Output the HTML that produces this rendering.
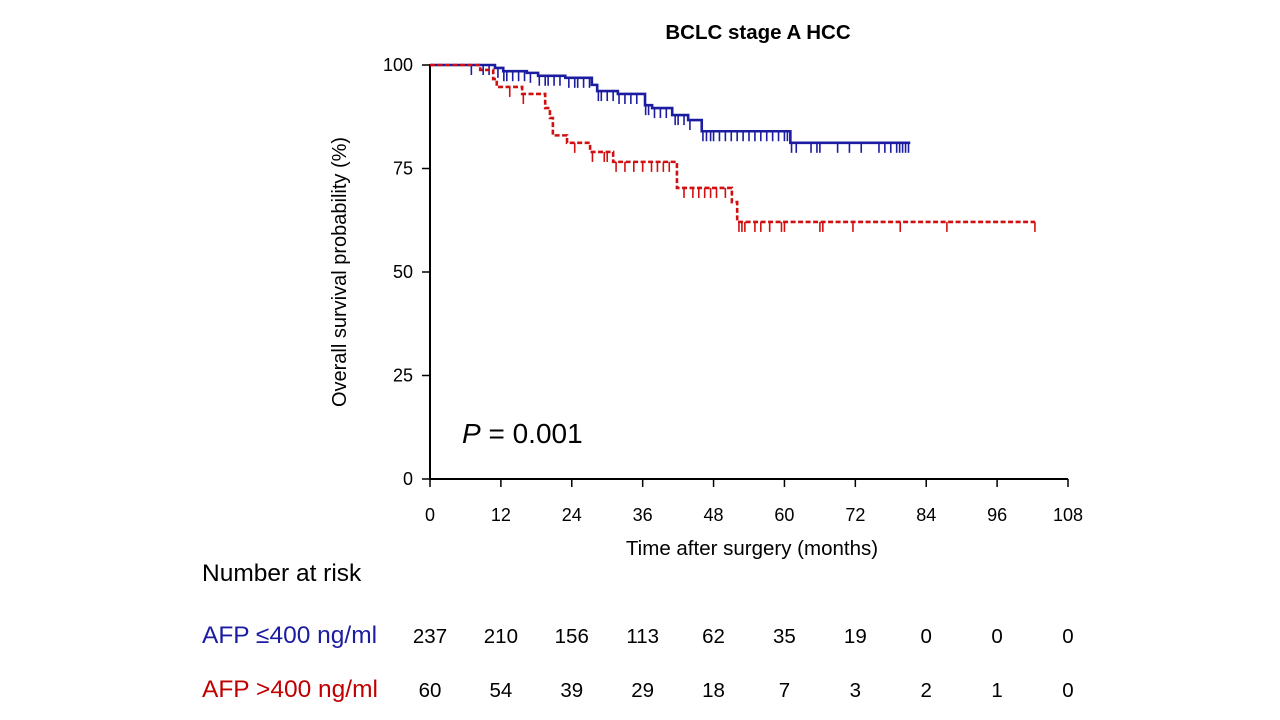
<!DOCTYPE html>
<html><head><meta charset="utf-8"><style>
body{margin:0;background:#fff;font-family:"Liberation Sans",Arial,sans-serif}
svg{display:block}
</style></head><body>
<svg id="c" width="1280" height="720" xmlns="http://www.w3.org/2000/svg" font-family="Liberation Sans, Arial, sans-serif">
<text x="758" y="39" text-anchor="middle" font-size="20.5" font-weight="bold">BCLC stage A HCC</text>
<text transform="translate(346,272) rotate(-90)" text-anchor="middle" font-size="20">Overall survival probability (%)</text>
<text x="752" y="555" text-anchor="middle" font-size="20.5">Time after surgery (months)</text>
<text x="462" y="443" font-size="28"><tspan font-style="italic">P</tspan> = 0.001</text>
<text x="202" y="581" font-size="24.5">Number at risk</text>
<text x="202" y="643" font-size="24.5" fill="#1c1ca0">AFP ≤400 ng/ml</text>
<text x="202" y="697" font-size="24.5" fill="#c00000">AFP &gt;400 ng/ml</text>
<g id="axes"></g><g id="curves"></g><g id="risk"></g>
</svg>
<script>
const xTicks=[0,12,24,36,48,60,72,84,96,108];
const yTicks=[0,25,50,75,100];
const blueSteps=[[0,100],[11,99.3],[12.4,98.5],[16.4,98.1],[18.3,97.4],[22.9,96.9],[27.4,95.2],[28.3,93.7],[31.8,93],[36.4,90.3],[37.6,89.6],[41,87.9],[43.7,86.7],[46,84],[61,81.2]];
const blueEnd=81.3;
const redSteps=[[0,100],[8.5,98.8],[10.7,96.6],[11.3,94.7],[15.6,93],[19.5,89.6],[20.3,87.2],[20.8,83],[23.2,81.2],[27.1,79],[31,76.6],[41.8,70.3],[51.1,66.9],[52,62.1]];
const redEnd=102.4;
const blueCensor=[7,9,10,11.5,12.5,13,14,15,16,17,18.5,19.5,20,21,22,23.5,24.5,25,26,27,28.5,29,30,31,32,33,34,35,36.5,37,38,39,40,41.5,42,43,44,46.2,46.8,47.5,48,49,50,51,52,53,54,55,56,57,58,59,60,60.5,61.2,62,64.5,65.5,66,69,71,73,76,77,78,79,79.5,80,80.5,81];
const redCensor=[13.5,15.8,24.5,27.5,29.5,30,31.5,33,34.5,36,37.5,38.5,39.5,40.5,43,44.5,45.5,46.5,47.5,48.5,50,52.3,52.8,53.3,55,56,57.5,59.5,60,66,66.5,71.6,79.6,87.5,102.4];
const riskLow=[237,210,156,113,62,35,19,0,0,0];
const riskHigh=[60,54,39,29,18,7,3,2,1,0];
const X0=430,X1=1068,Y0=479,Y1=65;
const sx=m=>X0+(m/108)*(X1-X0), sy=p=>Y0-(p/100)*(Y0-Y1);
const NS='http://www.w3.org/2000/svg';
function mk(t,a,p){const e=document.createElementNS(NS,t);for(const k in a)e.setAttribute(k,a[k]);p.appendChild(e);return e;}
const ax=document.getElementById('axes');
let e=mk('line',{x1:X0,y1:Y1-1,x2:X0,y2:Y0,stroke:'#000','stroke-width':2},ax);


e=mk('line',{x1:X0,y1:Y0,x2:X1,y2:Y0,stroke:'#000','stroke-width':2},ax);


xTicks.forEach(v=>{mk('line',{x1:sx(v),x2:sx(v),y1:Y0,y2:Y0+8,stroke:'#000','stroke-width':1.5},ax);
const t=mk('text',{x:sx(v),y:Y0+42,'text-anchor':'middle','font-size':18},ax);t.textContent=v;

});
yTicks.forEach(v=>{mk('line',{x1:X0-8,x2:X0,y1:sy(v),y2:sy(v),stroke:'#000','stroke-width':1.5},ax);
const t=mk('text',{x:X0-17,y:sy(v)+6,'text-anchor':'end','font-size':18},ax);t.textContent=v;

});
const cv=document.getElementById('curves');
function curve(steps,end,censor,col,dash,name){
 let d='M'+sx(steps[0][0])+','+sy(steps[0][1]);
 for(let i=1;i<steps.length;i++){d+='H'+sx(steps[i][0])+'V'+sy(steps[i][1]);}
 d+='H'+sx(end);
 const a={d:d,fill:'none',stroke:col,'stroke-width':2.6};if(dash)a['stroke-dasharray']='5,2.5';
 const p=mk('path',a,cv);
 
 
 const yAt=m=>{let y=steps[0][1];steps.forEach(s=>{if(s[0]<=m)y=s[1];});return y;};
 censor.forEach(m=>{const l=mk('line',{x1:sx(m),x2:sx(m),y1:sy(yAt(m)),y2:sy(yAt(m))+10,stroke:col,'stroke-width':1.6},cv);
 
 });
}
curve(blueSteps,blueEnd,blueCensor,'#1c1ca0',false,'afp-low');
curve(redSteps,redEnd,redCensor,'#d01010',true,'afp-high');
const rk=document.getElementById('risk');
xTicks.forEach((v,i)=>{
 let t=mk('text',{x:sx(v),y:643,'text-anchor':'middle','font-size':20.5},rk);t.textContent=riskLow[i];
 
 
 t=mk('text',{x:sx(v),y:697,'text-anchor':'middle','font-size':20.5},rk);t.textContent=riskHigh[i];
 
 
});
</script>
</body></html>
